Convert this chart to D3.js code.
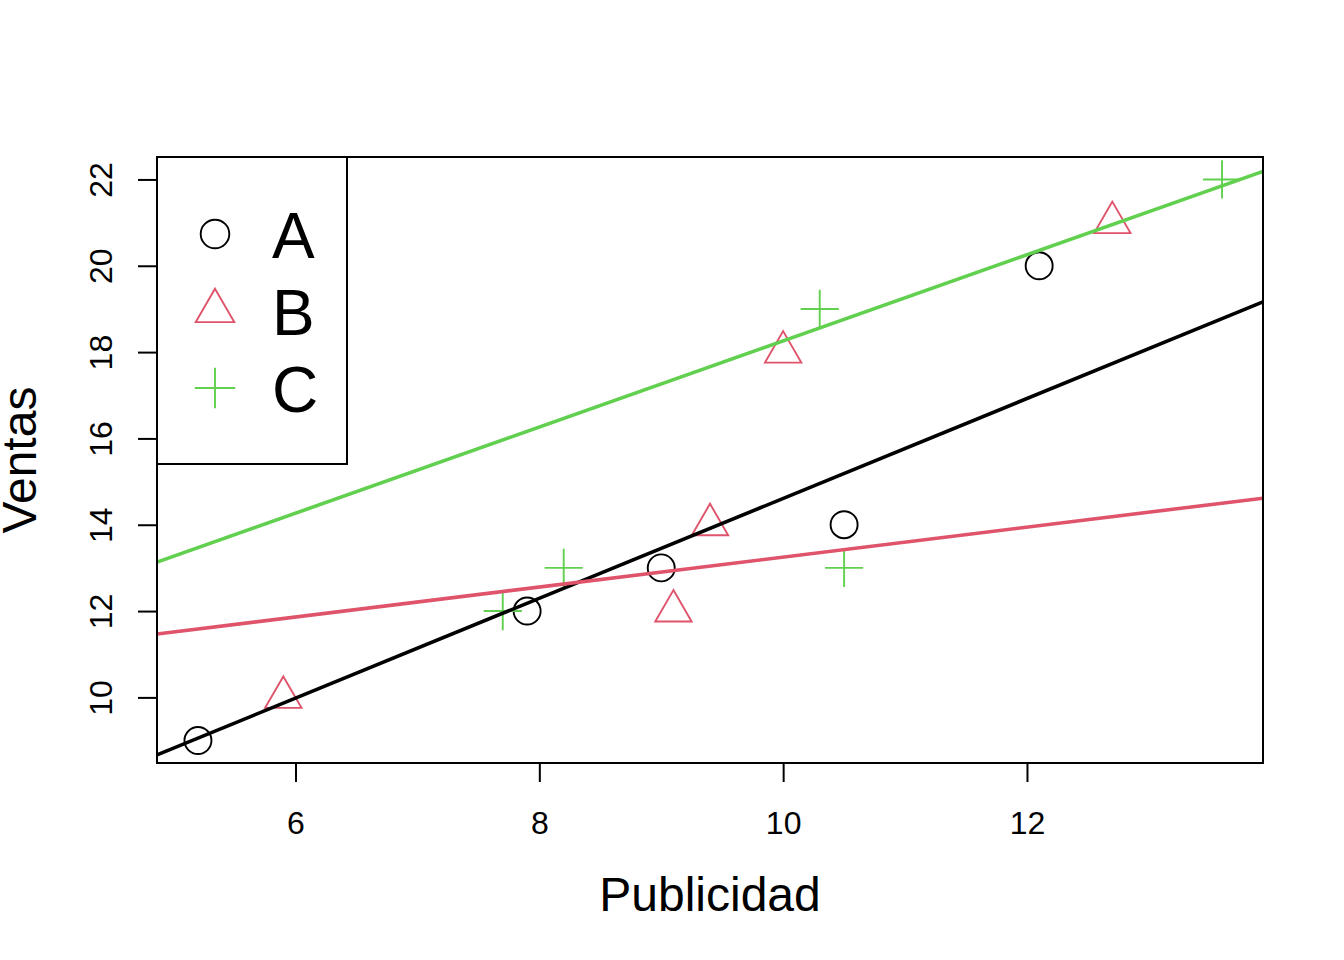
<!DOCTYPE html>
<html>
<head>
<meta charset="utf-8">
<script src="https://cdn.jsdelivr.net/npm/d3@7"></script>
<style>
  body { margin: 0; background: #fff; }
  text { font-family: "Liberation Sans", Arial, sans-serif; fill: #000; }
</style>
</head>
<body>
<div id="chart"></div>
<script>
// data
var groups = ['A', 'B', 'C'];
var colors = ['#000000', '#DF536B', '#61D04F'];
var shapes = ['circle', 'triangle', 'plus'];

var xA = [5.2, 7.9, 9.0, 10.5, 12.1];
var yA = [9, 12, 13, 14, 20];
var xB = [5.9, 9.1, 9.4, 10.0, 12.7];
var yB = [10, 12, 14, 18, 21];
var xC = [7.7, 8.2, 10.3, 10.5, 13.6];
var yC = [12, 13, 19, 13, 22];

// fitted lines (intercept, slope) per group
var intercepts = [3.04, 9.78, 8.28];
var slopes = [1.157, 0.347, 0.998];

var xTicks = [6, 8, 10, 12];
var yTicks = [10, 12, 14, 16, 18, 20, 22];

var W = 1344, H = 960;
var plot = {left: 157, right: 1263, top: 157, bottom: 763};

var svg = d3.select('#chart').append('svg')
    .attr('width', W)
    .attr('height', H);

var series = [[xA, yA], [xB, yB], [xC, yC]];
var allX = xA.concat(xB, xC), allY = yA.concat(yB, yC);

// R style 4% padding on the axes
function padded(ext) {
  var d = (ext[1] - ext[0]) * 0.04;
  return [ext[0] - d, ext[1] + d];
}

var x = d3.scaleLinear().domain(padded(d3.extent(allX))).range([plot.left, plot.right]);
var y = d3.scaleLinear().domain(padded(d3.extent(allY))).range([plot.bottom, plot.top]);

function markPath(shape, s) {
  var p = d3.path();
  if (shape === 'circle') {
    p.arc(0, 0, s, 0, 2 * Math.PI);
  } else if (shape === 'triangle') {
    var r = 1.555 * s, xc = 1.347 * s, yc = 0.778 * s;
    p.moveTo(0, -r);
    p.lineTo(xc, yc);
    p.lineTo(-xc, yc);
    p.closePath();
  } else {
    var h = 1.414 * s;
    p.moveTo(-h, 0); p.lineTo(h, 0);
    p.moveTo(0, -h); p.lineTo(0, h);
  }
  return p.toString();
}

// points
series.forEach(function(s, i) {
  svg.append('g').selectAll('path')
    .data(d3.zip(s[0], s[1]))
    .enter()
    .append('path')
      .attr('transform', function(d) { return 'translate(' + x(d[0]) + ',' + y(d[1]) + ')'; })
      .attr('d', markPath(shapes[i], 13.5))
      .attr('fill', 'none')
      .attr('stroke', colors[i])
      .attr('stroke-width', 1.9);
});

// lines, clipped to the plot box
svg.append('clipPath').attr('id', 'clip')
  .append('rect')
    .attr('x', plot.left).attr('y', plot.top)
    .attr('width', plot.right - plot.left)
    .attr('height', plot.bottom - plot.top);

var xd = x.domain();
svg.append('g').attr('clip-path', 'url(#clip)')
  .selectAll('line')
  .data(groups)
  .enter()
  .append('line')
    .attr('x1', x(xd[0]))
    .attr('x2', x(xd[1]))
    .attr('y1', function(d, i) { return y(intercepts[i] + slopes[i] * xd[0]); })
    .attr('y2', function(d, i) { return y(intercepts[i] + slopes[i] * xd[1]); })
    .attr('stroke', function(d, i) { return colors[i]; })
    .attr('stroke-width', 3.6);

// axes
var gx = svg.append('g')
    .attr('transform', 'translate(0,' + plot.bottom + ')')
    .call(d3.axisBottom(x).tickValues(xTicks).tickSize(19).tickSizeOuter(0).tickFormat(d3.format('d')));
gx.select('.domain').remove();
gx.selectAll('line').attr('stroke-width', 2);
gx.selectAll('text')
    .attr('y', 71).attr('dy', null)
    .style('font-size', '32px')
    .style('font-family', '"Liberation Sans", Arial, sans-serif');

var gy = svg.append('g')
    .attr('transform', 'translate(' + plot.left + ',0)')
    .call(d3.axisLeft(y).tickValues(yTicks).tickSize(19).tickSizeOuter(0).tickFormat(d3.format('d')));
gy.select('.domain').remove();
gy.selectAll('line').attr('stroke-width', 2);
gy.selectAll('text')
    .attr('x', null).attr('dy', null)
    .attr('transform', 'translate(-45,0) rotate(-90)')
    .attr('text-anchor', 'middle')
    .style('font-size', '32px')
    .style('font-family', '"Liberation Sans", Arial, sans-serif');

// plot box
svg.append('rect')
    .attr('x', plot.left).attr('y', plot.top)
    .attr('width', plot.right - plot.left)
    .attr('height', plot.bottom - plot.top)
    .attr('fill', 'none')
    .attr('stroke', '#000')
    .attr('stroke-width', 2);

// axis titles
svg.append('text')
    .attr('x', (plot.left + plot.right) / 2)
    .attr('y', 911)
    .attr('text-anchor', 'middle')
    .style('font-size', '48px')
    .text('Publicidad');

// the reference cuts the "V" at the left edge too
svg.append('text')
    .attr('transform', 'translate(36,' + (plot.top + plot.bottom) / 2 + ') rotate(-90)')
    .attr('text-anchor', 'middle')
    .style('font-size', '48px')
    .text('Ventas');

// legend
var legend = svg.append('g');
legend.append('rect')
    .attr('x', plot.left).attr('y', plot.top)
    .attr('width', 190).attr('height', 307)
    .attr('fill', '#fff')
    .attr('stroke', '#000')
    .attr('stroke-width', 2);

var rows = legend.selectAll('g.row')
    .data(groups)
    .enter()
    .append('g')
      .attr('class', 'row')
      .attr('transform', function(d, i) { return 'translate(0,' + (234 + i * 77) + ')'; });

rows.append('path')
    .attr('transform', 'translate(215,0)')
    .attr('d', function(d, i) { return markPath(shapes[i], 14.3); })
    .attr('fill', 'none')
    .attr('stroke', function(d, i) { return colors[i]; })
    .attr('stroke-width', 1.9);

rows.append('text')
    .attr('x', 272)
    .attr('y', 24)
    .style('font-size', '64px')
    .text(function(d) { return d; });
</script>
</body>
</html>
